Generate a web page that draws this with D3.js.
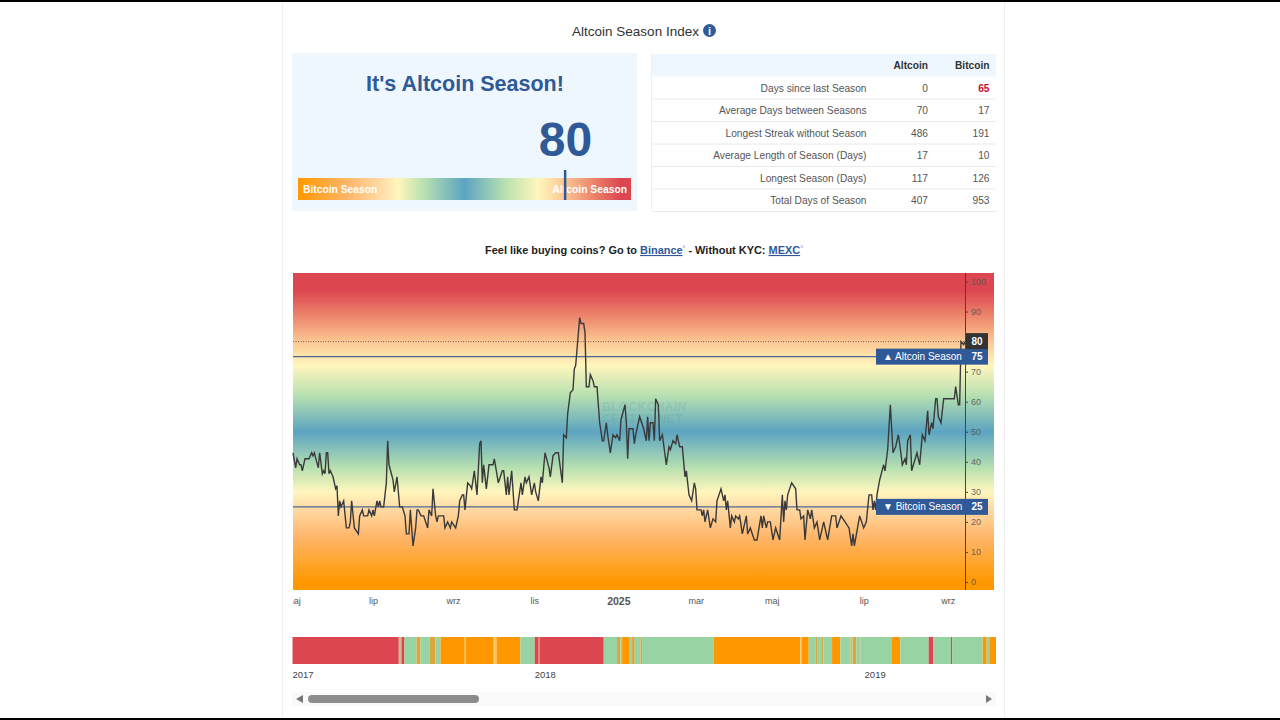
<!DOCTYPE html>
<html>
<head>
<meta charset="utf-8">
<script src="https://d3js.org/d3.v7.min.js"></script>
<style>
html, body { margin: 0; padding: 0; background: #fff; overflow: hidden; }
text { font-family: "Liberation Sans", Arial, sans-serif; }
</style>
</head>
<body>
<script>
// index reading and stats
var currentIndex = 80;
var altcoinLevel = 75;
var bitcoinLevel = 25;

var tableLabels = ["Days since last Season", "Average Days between Seasons", "Longest Streak without Season",
  "Average Length of Season (Days)", "Longest Season (Days)", "Total Days of Season"];
var tableAltcoin = [0, 70, 486, 17, 117, 407];
var tableBitcoin = [65, 17, 191, 10, 126, 953];

// daily line, day number counted from the left edge of the chart
var lineDays = [0,2,3,5,6,7,9,12,14,15,16,19,20,22,23,24,25,26,27,28,30,32,33,34,35,36,38,40,42,43,44,46,49,50,52,53,56,57,59,60,61,63,64,65,66,68,70,71,72,75,76,78,80,82,84,85,87,88,90,92,93,94,96,98,101,102,104,105,107,108,109,113,114,116,118,119,122,124,
  125,127,128,129,131,133,134,136,138,140,141,142,143,145,147,150,151,154,157,158,160,161,162,164,166,168,171,172,174,175,177,179,181,182,184,186,187,189,192,193,195,197,199,202,203,205,206,208,210,211,212,215,216,218,219,220,222,223,225,226,228,230,232,233,235,236,238,240,242,243,245,246,249,250,251,252,
  253,255,256,257,260,263,265,266,267,268,270,271,272,274,275,277,280,282,283,285,287,288,290,292,294,295,297,299,301,302,303,306,307,308,309,311,313,315,317,318,321,323,324,325,326,328,329,331,332,334,335,337,339,340,341,343,346,348,351,352,353,355,356,358,360,362,365,367,368,369,370,371,374,377,378,
  380,381,383,384,386,388,389,391,393,395,398,401,404,407,408,411,414,417,419,420,421,425,428,430,432,434,435,436,437,438,440,443,444,446,448,450,452,454,455,457,459,460,461,463,464,468,470,472,474,476,477,479,480,482,483,484,486,488,496,497,499,500,501,503,504];
var lineValues = [43,38,41,39,39,37,41,41,43,42,43,38,43,36,37,36,43,43,36,37,35,31,32,22,27,25,27,18,18,20,27,18,16,22,24,22,22,24,22,24,22,27,25,27,25,25,33,47,39,34,30,35,25,25,22,16,16,24,12,18,24,24,22,22,18,24,22,31,22,20,22,22,18,20,18,20,18,22,
  27,29,29,24,33,32,31,37,29,46,47,33,39,31,39,39,41,33,37,37,29,35,29,37,24,24,33,29,35,33,35,29,33,30,27,35,33,43,38,35,42,43,43,33,49,48,56,63,64,71,72,88,86,86,83,65,65,69,67,65,65,53,47,47,53,49,43,49,48,49,47,54,59,53,41,51,
  51,51,46,49,55,51,47,55,47,53,53,47,61,59,47,49,39,45,44,47,46,49,45,45,35,37,29,27,33,31,24,24,22,24,20,24,18,21,20,27,31,27,29,24,27,18,22,20,22,21,22,16,20,22,16,18,14,14,22,18,22,18,20,20,14,18,14,29,20,27,24,29,33,31,24,
  24,21,22,14,24,21,24,18,20,14,20,14,22,22,18,22,20,18,12,16,12,22,18,20,29,29,24,27,24,29,34,39,37,44,59,43,45,49,46,39,41,39,47,49,37,43,39,49,47,57,49,53,51,61,61,55,53,61,61,65,59,59,80,79,80];

var xTickDays = [0, 60, 120, 181, 244, 302, 359, 428, 491];
var xTickLabels = ["maj", "lip", "wrz", "lis", "2025", "mar", "maj", "lip", "wrz"];
var yTicks = [0, 10, 20, 30, 40, 50, 60, 70, 80, 90, 100];

// colour ramp along the index
var rampValues = [0, 15, 25, 30, 38, 50, 62, 72, 80, 90, 97, 100];
var rampColors = ["#ff9800", "#ffb66a", "#ffdca8", "#fff6bd", "#b7e0b0", "#5ba4c1", "#b7e0b0", "#fff6bd", "#fdc792", "#ea7a66", "#dc4650", "#dc4650"];

// season strip: end of every segment in days from the strip start, and its season
var stripEnds = [117.6,120.6,123.9,137.2,141.6,151.9,158.2,163.7,190.6,191.7,222.7,225.7,252.2,268,272.5,273.2,344.4,359.1,362.8,364.7,373.2,375.7,378.7,385,386.8,466.1,562,563.1,571.2,578.6,580.4,585.9,587.4,597,606.2,616.2,617.6,619.9,623.9,627.2,628.3,662.6,672.6,703.9,709.1,728.6,730.1,763.7,768.1,771,778.4];
var stripSeason = ["red","mix","red","green","dim","green","dim","green","orange","pale","orange","pale","orange","green","red","pale","red","green","dim","green","orange","green","dim","green","dim","green","orange","pale","orange","green","dim","green","dim","green","orange","green","dim","green","dim","green","dim","green","orange","green","red","green","red","green","orange","green","orange"];
var stripColors = {red: "#dc4650", green: "#98d4a3", orange: "#ff9800", dim: "#dca63e", pale: "#fbc76f", mix: "#cdb98a"};
var stripTickDays = [0, 268, 633];
var stripTickLabels = ["2017", "2018", "2019"];

var blue = "#2f5997";
var chartFont = "'Open Sans', sans-serif";

var svg = d3.select("body").append("svg")
    .attr("width", 1280)
    .attr("height", 720)
    .style("display", "block");

var defs = svg.append("defs");

// page frame
svg.append("rect").attr("x", 0).attr("y", 0).attr("width", 1280).attr("height", 2).attr("fill", "#000");
svg.append("rect").attr("x", 0).attr("y", 718).attr("width", 1280).attr("height", 2).attr("fill", "#000");
svg.append("line").attr("x1", 282.5).attr("x2", 282.5).attr("y1", 2).attr("y2", 718).attr("stroke", "#eee");
svg.append("line").attr("x1", 1004.5).attr("x2", 1004.5).attr("y1", 2).attr("y2", 718).attr("stroke", "#eee");

// title
svg.append("text").attr("x", 635.5).attr("y", 36).attr("text-anchor", "middle")
    .attr("font-size", 13.5).attr("fill", "#333").text("Altcoin Season Index");
svg.append("circle").attr("cx", 709.5).attr("cy", 30.5).attr("r", 6.5).attr("fill", blue);
svg.append("text").attr("x", 709.5).attr("y", 34.5).attr("text-anchor", "middle")
    .attr("font-size", 11).attr("font-weight", "bold").attr("fill", "#fff").text("i");

// gauge panel
svg.append("rect").attr("x", 292).attr("y", 53).attr("width", 345).attr("height", 158).attr("fill", "#eef7fd");
svg.append("text").attr("x", 465).attr("y", 90.5).attr("text-anchor", "middle")
    .attr("font-size", 21.5).attr("font-weight", "bold").attr("fill", blue).text("It's Altcoin Season!");

var gaugeX = d3.scaleLinear().domain([0, 100]).range([298, 631]);

var gaugeGrad = defs.append("linearGradient").attr("id", "gaugeGrad")
    .attr("gradientUnits", "userSpaceOnUse")
    .attr("x1", gaugeX(0)).attr("x2", gaugeX(100)).attr("y1", 0).attr("y2", 0);
gaugeGrad.selectAll("stop").data(rampValues).enter().append("stop")
    .attr("offset", function(d) { return d / 100; })
    .attr("stop-color", function(d, i) { return rampColors[i]; });

svg.append("rect").attr("x", gaugeX(0)).attr("y", 178).attr("width", gaugeX(100) - gaugeX(0)).attr("height", 22)
    .attr("fill", "url(#gaugeGrad)");
svg.append("text").attr("x", 303).attr("y", 193).attr("font-size", 10.3).attr("font-weight", "bold")
    .attr("fill", "#fff").text("Bitcoin Season");
svg.append("text").attr("x", 627).attr("y", 193).attr("text-anchor", "end").attr("font-size", 10.3).attr("font-weight", "bold")
    .attr("fill", "#fff").text("Altcoin Season");
svg.append("text").attr("x", gaugeX(currentIndex) + 1).attr("y", 156).attr("text-anchor", "middle")
    .attr("font-size", 48).attr("font-weight", "bold").attr("fill", blue).text(currentIndex);
svg.append("rect").attr("x", gaugeX(currentIndex) - 0.5).attr("y", 170).attr("width", 2.5).attr("height", 30).attr("fill", blue);

// stats table
svg.append("rect").attr("x", 652).attr("y", 54).attr("width", 344).attr("height", 22.5).attr("fill", "#eef7fd");
svg.append("line").attr("x1", 651.5).attr("x2", 651.5).attr("y1", 54).attr("y2", 211).attr("stroke", "#eee");
svg.append("text").attr("x", 928).attr("y", 68.5).attr("text-anchor", "end").attr("font-size", 10.2)
    .attr("font-weight", "bold").attr("fill", "#333").text("Altcoin");
svg.append("text").attr("x", 989.5).attr("y", 68.5).attr("text-anchor", "end").attr("font-size", 10.2)
    .attr("font-weight", "bold").attr("fill", "#333").text("Bitcoin");

var rowY = d3.scaleBand().domain(d3.range(tableLabels.length)).range([76.5, 211.5]);

var rows = svg.selectAll(".row").data(tableLabels).enter().append("g")
    .attr("class", "row")
    .attr("transform", function(d, i) { return "translate(0," + rowY(i) + ")"; });
rows.append("line").attr("x1", 652).attr("x2", 996).attr("y1", rowY.bandwidth()).attr("y2", rowY.bandwidth()).attr("stroke", "#eaeaea");
rows.append("text").attr("x", 866.5).attr("y", 15).attr("text-anchor", "end").attr("font-size", 10.2)
    .attr("fill", "#555").text(function(d) { return d; });
rows.append("text").attr("x", 928).attr("y", 15).attr("text-anchor", "end").attr("font-size", 10.2)
    .attr("fill", "#555").text(function(d, i) { return tableAltcoin[i]; });
rows.append("text").attr("x", 989.5).attr("y", 15).attr("text-anchor", "end").attr("font-size", 10.2)
    .attr("fill", function(d, i) { return i == 0 ? "#c8102e" : "#555"; })
    .attr("font-weight", function(d, i) { return i == 0 ? "bold" : "normal"; })
    .text(function(d, i) { return tableBitcoin[i]; });

// exchange line
var trade = svg.append("text").attr("x", 644).attr("y", 254).attr("text-anchor", "middle")
    .attr("font-size", 10.95).attr("font-weight", "bold").attr("fill", "#222");
trade.append("tspan").text("Feel like buying coins? Go to ");
trade.append("tspan").attr("fill", blue).attr("text-decoration", "underline").text("Binance");
trade.append("tspan").attr("fill", "#7fb2dc").attr("font-size", 7).attr("dy", -3).text("°");
trade.append("tspan").attr("dy", 3).text(" - Without KYC: ");
trade.append("tspan").attr("fill", blue).attr("text-decoration", "underline").text("MEXC");
trade.append("tspan").attr("fill", "#7fb2dc").attr("font-size", 7).attr("dy", -3).text("°");

// main chart
var plotLeft = 293, plotRight = 994, plotTop = 273, plotBottom = 590, axisX = 965;

var x = d3.scaleLinear().domain([0, 504]).range([plotLeft, axisX]);
var y = d3.scaleLinear().domain([0, 100]).range([582, 281.5]);

var plotGrad = defs.append("linearGradient").attr("id", "plotGrad")
    .attr("gradientUnits", "userSpaceOnUse")
    .attr("x1", 0).attr("x2", 0).attr("y1", y(0)).attr("y2", y(100));
plotGrad.selectAll("stop").data(rampValues).enter().append("stop")
    .attr("offset", function(d) { return d / 100; })
    .attr("stop-color", function(d, i) { return rampColors[i]; });

svg.append("rect").attr("x", plotLeft).attr("y", plotTop).attr("width", plotRight - plotLeft)
    .attr("height", plotBottom - plotTop).attr("fill", "url(#plotGrad)");

// watermark
svg.append("text").attr("x", 602).attr("y", 411).attr("font-size", 12).attr("font-weight", "bold").attr("letter-spacing", 0.4)
    .attr("fill", "#4d8f9f").attr("opacity", 0.16).text("BLOCKCHAIN");
svg.append("text").attr("x", 602).attr("y", 423).attr("font-size", 12).attr("font-weight", "bold").attr("letter-spacing", 0.4)
    .attr("fill", "#4d8f9f").attr("opacity", 0.16).text("CENTER.NET");

// level lines
svg.selectAll(".level").data([altcoinLevel, bitcoinLevel]).enter().append("line")
    .attr("class", "level")
    .attr("x1", plotLeft).attr("x2", 877)
    .attr("y1", function(d) { return y(d); }).attr("y2", function(d) { return y(d); })
    .attr("stroke", "#4a6a94").attr("stroke-width", 1.4);
svg.append("line").attr("x1", plotLeft).attr("x2", axisX)
    .attr("y1", y(currentIndex)).attr("y2", y(currentIndex))
    .attr("stroke", "#444").attr("stroke-dasharray", "1,1.5").attr("stroke-width", 0.8);

var line = d3.line()
    .x(function(d) { return x(d); })
    .y(function(d, i) { return y(lineValues[i]); });

svg.append("path").datum(lineDays)
    .attr("d", line)
    .attr("fill", "none")
    .attr("stroke", "#3a3a3a")
    .attr("stroke-width", 1.4);

// y axis
var yAxis = d3.axisRight(y).tickValues(yTicks).tickSize(3).tickPadding(3);
var yG = svg.append("g").attr("transform", "translate(" + axisX + ",0)").call(yAxis);
yG.select(".domain").remove();
yG.selectAll("line").attr("stroke", "#444");
yG.selectAll("text").attr("font-family", chartFont).attr("font-size", 9).attr("fill", "#555").attr("opacity", 0.85);
svg.append("line").attr("x1", axisX + 0.5).attr("x2", axisX + 0.5).attr("y1", plotTop).attr("y2", plotBottom).attr("stroke", "#444");

// x axis
defs.append("clipPath").attr("id", "xClip").append("rect")
    .attr("x", plotLeft).attr("y", 0).attr("width", plotRight - plotLeft).attr("height", 30);
var xAxis = d3.axisBottom(x).tickValues(xTickDays).tickSize(0).tickPadding(8)
    .tickFormat(function(d, i) { return xTickLabels[i]; });
var xG = svg.append("g").attr("transform", "translate(0," + plotBottom + ")").attr("clip-path", "url(#xClip)").call(xAxis);
xG.select(".domain").remove();
xG.selectAll("text").attr("font-family", chartFont).attr("fill", "#555")
    .attr("font-size", function(d, i) { return xTickLabels[i] == "2025" ? 10.5 : 9; })
    .attr("font-weight", function(d, i) { return xTickLabels[i] == "2025" ? "bold" : "normal"; });

// labels on the price side
function priceTag(value, text) {
  svg.append("rect").attr("x", 876).attr("y", y(value) - 8).attr("width", 112).attr("height", 16).attr("fill", blue);
  svg.append("text").attr("x", 883).attr("y", y(value) + 3.5).attr("font-family", chartFont)
      .attr("font-size", 10).attr("fill", "#fff").text(text);
  svg.append("text").attr("x", 977).attr("y", y(value) + 3.5).attr("text-anchor", "middle").attr("font-family", chartFont)
      .attr("font-size", 10).attr("font-weight", "bold").attr("fill", "#fff").text(value);
}
priceTag(altcoinLevel, "▲ Altcoin Season");
priceTag(bitcoinLevel, "▼ Bitcoin Season");
svg.append("rect").attr("x", 966).attr("y", y(currentIndex) - 8.5).attr("width", 22).attr("height", 16).attr("fill", "#333");
svg.append("text").attr("x", 977).attr("y", y(currentIndex) + 3).attr("text-anchor", "middle").attr("font-family", chartFont)
    .attr("font-size", 10).attr("font-weight", "bold").attr("fill", "#fff").text(currentIndex);

// season strip
var stripX = d3.scaleLinear().domain([0, 778.4]).range([292.5, 996]);

svg.selectAll(".seg").data(stripEnds).enter().append("rect")
    .attr("class", "seg")
    .attr("x", function(d, i) { return stripX(i == 0 ? 0 : stripEnds[i - 1]); })
    .attr("y", 637)
    .attr("width", function(d, i) { return stripX(d) - stripX(i == 0 ? 0 : stripEnds[i - 1]); })
    .attr("height", 27)
    .attr("fill", function(d, i) { return stripColors[stripSeason[i]]; });

svg.selectAll(".stripTick").data(stripTickDays).enter().append("text")
    .attr("class", "stripTick")
    .attr("x", function(d) { return stripX(d); })
    .attr("y", 678)
    .attr("font-size", 9.5)
    .attr("fill", "#444")
    .text(function(d, i) { return stripTickLabels[i]; });

// scrollbar
svg.append("rect").attr("x", 292).attr("y", 692).attr("width", 704).attr("height", 14).attr("fill", "#fafafa");
svg.append("rect").attr("x", 308).attr("y", 695).attr("width", 171).attr("height", 8).attr("rx", 4).attr("fill", "#8c8c8c");
svg.append("path").attr("d", d3.line()([[303, 695], [303, 703], [296, 699]])).attr("fill", "#777");
svg.append("path").attr("d", d3.line()([[986, 695], [986, 703], [992, 699]])).attr("fill", "#777");
</script>
</body>
</html>
